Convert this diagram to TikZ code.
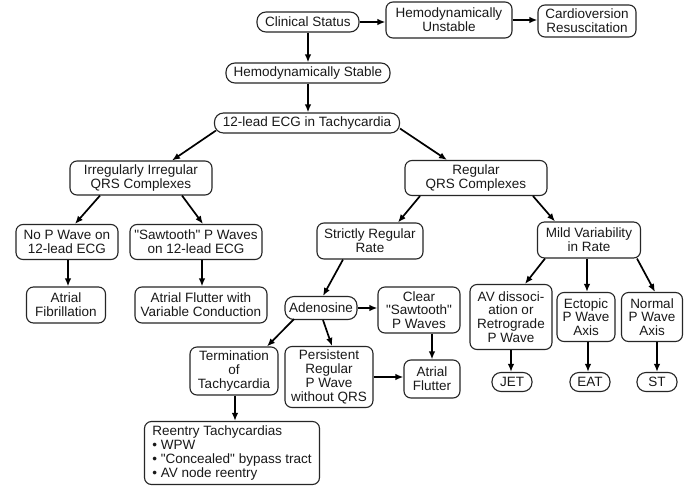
\documentclass[tikz,border=0pt]{standalone}
\usepackage{fontspec}
\setmainfont{Liberation Sans}[Ligatures=TeXOff]
\usetikzlibrary{arrows.meta,calc}
\begin{document}
\begin{tikzpicture}[x=1pt,y=-1pt,
  box/.style={draw=black!85, line width=1.1pt, rounded corners=7pt, align=center, inner sep=1pt,
    font=\fontsize{13.5}{13.8}\selectfont, text=black!90},
  pill/.style={box, rounded corners=9pt},
  arr/.style={line width=1.7pt, -{Latex[length=8pt,width=6.5pt]}}]
\useasboundingbox (0,0) rectangle (694,488);
\fill[white] (0,0) rectangle (694,488);
% nodes
\node[pill, minimum width=102pt, minimum height=20pt] (cs) at (308,22) {Clinical Status};
\node[box, minimum width=126pt, minimum height=36pt] (unst) at (449,20) {Hemodynamically\\Unstable};
\node[box, minimum width=98pt, minimum height=32pt] (cardio) at (587,21) {Cardioversion\\Resuscitation};
\node[pill, minimum width=164pt, minimum height=20pt] (stable) at (308,73) {Hemodynamically Stable};
\node[pill, minimum width=185pt, minimum height=20pt] (ecg) at (307,123) {12-lead ECG in Tachycardia};
\node[box, minimum width=142pt, minimum height=34pt] (irr) at (141,178) {Irregularly Irregular\\QRS Complexes};
\node[box, minimum width=142pt, minimum height=35pt] (reg) at (476,178) {Regular\\QRS Complexes};
\node[box, minimum width=102pt, minimum height=35pt] (nop) at (67,242) {No P Wave on\\12-lead ECG};
\node[box, minimum width=132pt, minimum height=35pt] (saw) at (196,242) {"Sawtooth" P Waves\\on 12-lead ECG};
\node[box, minimum width=79pt, minimum height=36pt] (af) at (66,305) {Atrial\\Fibrillation};
\node[box, minimum width=132pt, minimum height=36pt] (flv) at (201,305) {Atrial Flutter with\\Variable Conduction};
\node[box, minimum width=106pt, minimum height=36pt] (strict) at (370,241) {Strictly Regular\\Rate};
\node[box, minimum width=103pt, minimum height=36pt] (mild) at (589,240) {Mild Variability\\in Rate};
\node[pill, minimum width=72pt, minimum height=23pt] (aden) at (321,308) {Adenosine};
\node[box, minimum width=82pt, minimum height=46pt] (clear) at (419,310) {Clear\\"Sawtooth"\\P Waves};
\node[box, minimum width=88pt, minimum height=48pt] (term) at (234,371) {Termination\\of\\Tachycardia};
\node[box, minimum width=88pt, minimum height=61pt] (pers) at (329,377) {Persistent\\Regular\\P Wave\\without QRS};
\node[box, minimum width=56pt, minimum height=38pt] (aflut) at (432,379) {Atrial\\Flutter};
\node[box, minimum width=82pt, minimum height=65pt] (av) at (511,317) {AV dissoci-\\ation or\\Retrograde\\P Wave};
\node[box, minimum width=58pt, minimum height=49pt] (ect) at (586,317) {Ectopic\\P Wave\\Axis};
\node[box, minimum width=61pt, minimum height=49pt] (norm) at (652,317) {Normal\\P Wave\\Axis};
\node[pill, minimum width=40pt, minimum height=19pt] (jet) at (512,382) {JET};
\node[pill, minimum width=40pt, minimum height=19pt] (eat) at (590,382) {EAT};
\node[pill, minimum width=40pt, minimum height=19pt] (st) at (657,382) {ST};
\node[box, align=left, minimum width=175pt, minimum height=63pt] (reent) at (232,453)
  {Reentry Tachycardias\\• WPW\\• "Concealed" bypass tract\\• AV node reentry};
% arrows
\draw[arr] (cs.east) -- (cs.east -| unst.west);
\draw[arr] (unst.east) -- (unst.east -| cardio.west);
\draw[arr] (cs.south) -- (cs.south |- stable.north);
\draw[arr] (stable.south) -- (stable.south |- ecg.north);
\draw[arr] ($(ecg.south west)+(2,-3)$) -- ($(irr.north)+(31,0)$);
\draw[arr] ($(ecg.south east)+(0,-5)$) -- ($(reg.north)+(-29,0)$);
\draw[arr] ($(irr.south)+(-41,0)$) -- ($(nop.north)+(8,0)$);
\draw[arr] ($(irr.south)+(41,0)$) -- ($(saw.north)+(7,0)$);
\draw[arr] ($(nop.south)+(1,0)$) -- ($(af.north)+(2,0)$);
\draw[arr] ($(saw.south)+(6,0)$) -- ($(flv.north)+(1,0)$);
\draw[arr] ($(reg.south)+(-56,0)$) -- ($(strict.north)+(28,0)$);
\draw[arr] ($(reg.south)+(57,0)$) -- ($(mild.north)+(-34,0)$);
\draw[arr] ($(strict.south)+(-27,0)$) -- ($(aden.north)+(2,0)$);
\draw[arr] (aden.east) -- (aden.east -| clear.west);
\draw[arr] ($(aden.south)+(-27,-1)$) -- ($(term.north)+(33,0)$);
\draw[arr] ($(aden.south)+(2,0)$) -- ($(pers.north)+(3,0)$);
\draw[arr] ($(clear.south)+(13,0)$) -- (aflut.north);
\draw[arr] (pers.east) -- (pers.east -| aflut.west);
\draw[arr] ($(term.south)+(1,0)$) -- ($(reent.north)+(3,0)$);
\draw[arr] ($(mild.south)+(-44,0)$) -- ($(av.north)+(14,0)$);
\draw[arr] ($(mild.south)+(-2,0)$) -- ($(ect.north)+(1,0)$);
\draw[arr] ($(mild.south)+(48,0)$) -- ($(norm.north)+(3,0)$);
\draw[arr] (av.south) -- ($(jet.north)+(-1,0)$);
\draw[arr] ($(ect.south)+(2,0)$) -- ($(eat.north)+(-2,0)$);
\draw[arr] ($(norm.south)+(5,0)$) -- (st.north);
\end{tikzpicture}
\end{document}
